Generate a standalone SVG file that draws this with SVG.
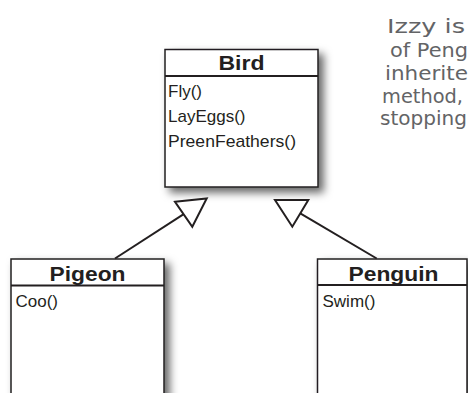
<svg xmlns="http://www.w3.org/2000/svg" width="468" height="393" viewBox="0 0 468 393">
<style>
.box{fill:#fff;stroke:#231f20;stroke-width:1.5}
.sep{stroke:#231f20;stroke-width:1.8}
.title{font-family:"Liberation Sans",Arial,sans-serif;font-weight:bold;font-size:20px;fill:#231f20;text-anchor:middle}
.meth{font-family:"Liberation Sans",Arial,sans-serif;font-size:17px;fill:#231f20}
.conn{stroke:#231f20;stroke-width:2;fill:none}
.tri{stroke:#231f20;stroke-width:2;fill:#fff;stroke-linejoin:miter}
.note{font-family:"DejaVu Sans",sans-serif;font-size:19px;fill:#636466}
</style>
<defs>
<filter id="sh" x="-20%" y="-20%" width="145%" height="145%">
<feDropShadow dx="5" dy="5" stdDeviation="4" flood-color="#000" flood-opacity="0.6"/>
</filter>
</defs>
<rect width="468" height="393" fill="#fff"/>
<g id="note">
<text class="note" x="387" y="33" textLength="78" lengthAdjust="spacingAndGlyphs">Izzy is</text>
<text class="note" x="390" y="57" textLength="78" lengthAdjust="spacingAndGlyphs">of Peng</text>
<text class="note" x="385" y="80" textLength="83" lengthAdjust="spacingAndGlyphs">inherite</text>
<text class="note" x="382" y="103" textLength="81" lengthAdjust="spacingAndGlyphs">method,</text>
<text class="note" x="380" y="125" textLength="87" lengthAdjust="spacingAndGlyphs">stopping</text>
</g>
<g id="bird">
<rect class="box" x="165" y="49.5" width="153" height="137.5" filter="url(#sh)"/>
<line class="sep" x1="165" y1="76" x2="318" y2="76"/>
<text class="title" x="241.5" y="70" textLength="46" lengthAdjust="spacingAndGlyphs">Bird</text>
<text class="meth" x="168" y="96.5">Fly()</text>
<text class="meth" x="168" y="121.5">LayEggs()</text>
<text class="meth" x="168" y="146.5" textLength="128" lengthAdjust="spacingAndGlyphs">PreenFeathers()</text>
</g>
<g id="pigeon">
<rect class="box" x="11" y="259" width="153" height="150" filter="url(#sh)"/>
<line class="sep" x1="11" y1="285.5" x2="164" y2="285.5"/>
<text class="title" x="87.5" y="281" textLength="76" lengthAdjust="spacingAndGlyphs">Pigeon</text>
<text class="meth" x="15.5" y="306.5">Coo()</text>
</g>
<g id="penguin">
<rect class="box" x="317.5" y="259" width="149.5" height="150" filter="url(#sh)"/>
<line class="sep" x1="317.5" y1="285" x2="467" y2="285"/>
<text class="title" x="393.5" y="281" textLength="90" lengthAdjust="spacingAndGlyphs">Penguin</text>
<text class="meth" x="322.5" y="306.5">Swim()</text>
</g>
<g id="connectors">
<line class="conn" x1="115" y1="258.5" x2="183.7" y2="214.2"/>
<polygon class="tri" points="175,201.7 206.7,198.5 192.3,226.7"/>
<line class="conn" x1="376.7" y1="258.5" x2="300.3" y2="213.3"/>
<polygon class="tri" points="275,200 308.3,200 292.3,226.7"/>
</g>
</svg>
